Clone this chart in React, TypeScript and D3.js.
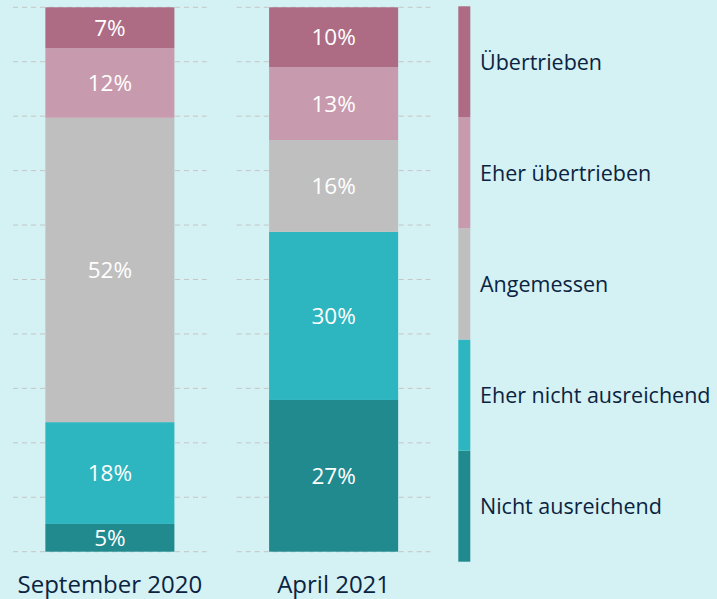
import React from 'react';
import * as d3 from 'd3';

// answer categories, bottom to top of each bar
const categories = [
  'Nicht ausreichend',
  'Eher nicht ausreichend',
  'Angemessen',
  'Eher übertrieben',
  'Übertrieben',
];
const periods = ['September 2020', 'April 2021'];
// printed percentages
const sep2020 = [5, 18, 52, 12, 7];
const apr2021 = [27, 30, 16, 13, 10];
// bar shares as drawn (rest "weiß nicht" left out, so the bars are rescaled to 100)
const sep2020Share = [5.1, 18.7, 55.9, 12.8, 7.5];
const apr2021Share = [27.9, 30.9, 16.9, 13.4, 11.0];
const gridTicks = [0, 0.1, 0.2, 0.3, 0.4, 0.5, 0.6, 0.7, 0.8, 0.9, 1];

const colors = ['#218a8f', '#2db5c0', '#bfbfbf', '#c89aad', '#ad6b84'];

const W = 717;
const H = 599;
const FONT = '"Open Sans", "Noto Sans", sans-serif';
const INK = '#0b2341';

export default function App() {
  const rows = periods.map((p, i) => {
    const shares = i === 0 ? sep2020Share : apr2021Share;
    const labels = i === 0 ? sep2020 : apr2021;
    const row: any = { period: p, labels };
    categories.forEach((c, j) => (row[c] = shares[j]));
    return row;
  });

  const series = d3.stack<any>().keys(categories).offset(d3.stackOffsetExpand)(rows);

  const x = d3.scaleBand().domain(periods).range([13, 430.5]).paddingInner(0.134);
  const y = d3.scaleLinear().domain([0, 1]).range([551.7, 7.3]);
  const barW = x.bandwidth() * 0.666;

  const legend = d3.scaleBand().domain([...categories].reverse()).range([6.3, 561.7]);

  return (
    <div style={{ position: 'fixed', left: 0, top: 0, width: W, height: H, background: '#d4f1f4' }}>
      <svg width={W} height={H} style={{ display: 'block' }}>
        {/* dashed grid, one run per band */}
        {periods.map(p =>
          gridTicks.map(t => (
            <line
              key={p + t}
              x1={x(p)!}
              x2={x(p)! + x.bandwidth()}
              y1={y(t)}
              y2={y(t)}
              stroke="#c6c6c6"
              strokeWidth={1}
              strokeDasharray="5,4"
            />
          ))
        )}

        {series.map((s, si) => (
          <g key={s.key} fill={colors[si]}>
            {s.map(d => {
              const p = d.data.period;
              const x0 = x(p)! + (x.bandwidth() - barW) / 2;
              return (
                <g key={p}>
                  <rect x={x0} y={y(d[1])} width={barW} height={y(d[0]) - y(d[1])} />
                  <text
                    x={x0 + barW / 2}
                    y={(y(d[0]) + y(d[1])) / 2}
                    dy="0.36em"
                    textAnchor="middle"
                    fill="#ffffff"
                    fontSize={22.5}
                    fontFamily={FONT}
                  >
                    {d.data.labels[si]}%
                  </text>
                </g>
              );
            })}
          </g>
        ))}

        {periods.map(p => (
          <text
            key={p}
            x={x(p)! + x.bandwidth() / 2}
            y={592.5}
            textAnchor="middle"
            fill={INK}
            fontSize={24}
            fontFamily={FONT}
          >
            {p}
          </text>
        ))}

        {/* legend as a vertical colour strip */}
        {categories.map((c, i) => (
          <g key={c}>
            <rect x={458.3} y={legend(c)!} width={12} height={legend.bandwidth()} fill={colors[i]} />
            <text
              x={480}
              y={legend(c)! + legend.bandwidth() / 2}
              dy="0.36em"
              fill={INK}
              fontSize={21.5}
              fontFamily={FONT}
            >
              {c}
            </text>
          </g>
        ))}
      </svg>
    </div>
  );
}
